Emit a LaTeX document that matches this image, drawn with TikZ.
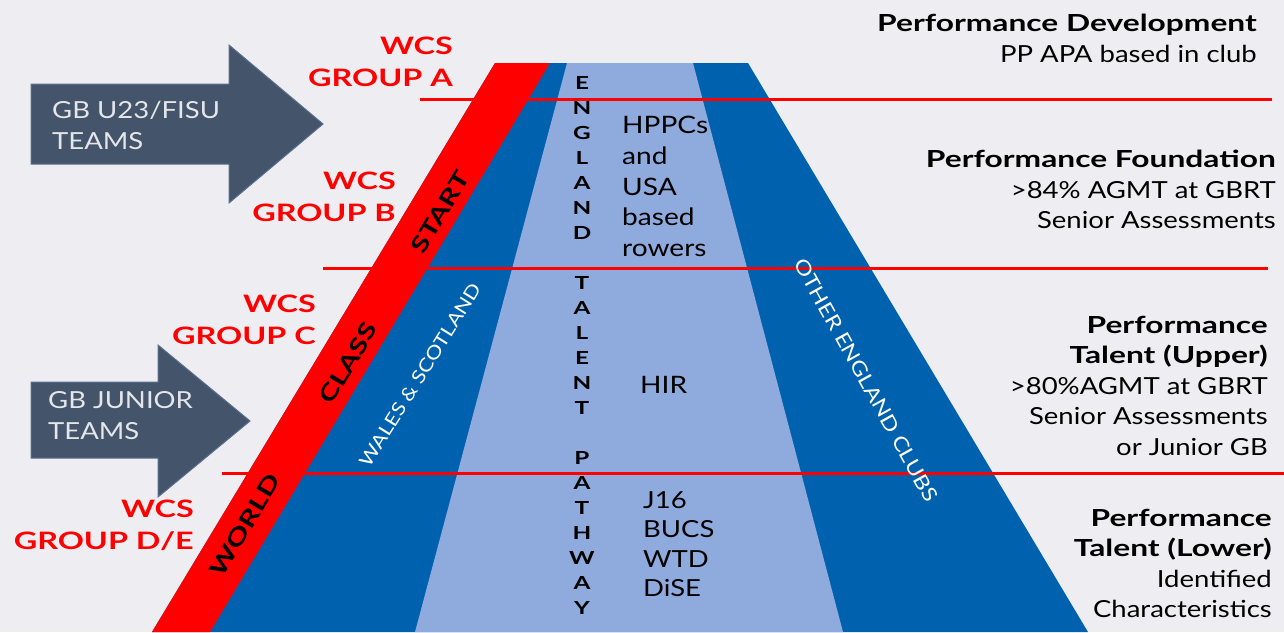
\documentclass[tikz,border=0pt]{standalone}
\usepackage{fontspec}
\setmainfont{Lato}[FakeStretch=1.17]
\newfontfamily\widebold{Lato}[FakeStretch=1.35]
\usepackage{xcolor}
\definecolor{bgcol}{HTML}{EEEEF2}
\definecolor{darkblue}{HTML}{0062AE}
\definecolor{lightblue}{HTML}{8FAADC}
\definecolor{arrowcol}{HTML}{44546A}
\definecolor{arrowline}{HTML}{5A6F8E}
\definecolor{teamtext}{HTML}{E4E6EA}
\definecolor{wcsred}{HTML}{FF0000}

\begin{document}
\begin{tikzpicture}[x=1pt,y=-1pt,
  redline/.style={wcsred,line width=3pt},
  arrowbox/.style={fill=arrowcol,draw=arrowline,line width=1pt},
  team/.style={font=\fontsize{23.5}{31}\selectfont,text=teamtext,align=left,anchor=west,inner sep=0pt},
  wcs/.style={font=\widebold\fontsize{24}{32}\selectfont\bfseries,text=wcsred,align=right,anchor=east,inner sep=0pt},
  bandword/.style={font=\widebold\fontsize{22.5}{22.5}\selectfont\bfseries,inner sep=0pt},
  sideword/.style={font=\fontsize{18.5}{18.5}\selectfont,text=white,inner sep=0pt},
  level/.style={font=\fontsize{23.5}{30.5}\selectfont,align=right,anchor=north east,inner sep=0pt},
  hd/.style={},
  squad/.style={font=\fontsize{24}{30.75}\selectfont,align=left,anchor=north west,inner sep=0pt},
  letter/.style={font=\widebold\fontsize{18}{18}\selectfont\bfseries,inner sep=0pt}]
  \useasboundingbox (0,0) rectangle (1284,632);
  \fill[bgcol] (0,0) rectangle (1284,632);
  \fill[darkblue] (495,63) -- (748,63) -- (1088,632) -- (152,632) -- cycle;
  \fill[lightblue] (567,63) -- (693,63) -- (843,632) -- (415,632) -- cycle;
  \fill[wcsred] (495,63) -- (550,63) -- (210,632) -- (152,632) -- cycle;
  \draw[redline] (420,99) -- (1272,99);
  \draw[redline] (323,268) -- (1268,268);
  \draw[redline] (222,473) -- (1284,473);
  \filldraw[arrowbox] (31,84) -- (229,84) -- (229,45) -- (323,124) -- (229,203) -- (229,164) -- (31,164) -- cycle;
  \filldraw[arrowbox] (31,382) -- (158,382) -- (158,345) -- (250,421) -- (158,497) -- (158,458) -- (31,458) -- cycle;
  \node[team] (u23) at (52,125) {GB U23/FISU\\TEAMS};
  \node[team] (junior) at (48,416) {GB JUNIOR\\TEAMS};
  \node[wcs] (groupa) at (453,61.5) {WCS\\GROUP A};
  \node[wcs] (groupb) at (396,197) {WCS\\GROUP B};
  \node[wcs] (groupc) at (316,320) {WCS\\GROUP C};
  \node[wcs] (groupde) at (194,525) {WCS\\GROUP D/E};
  \node[bandword,rotate=59] (start) at (440,212) {START};
  \node[bandword,rotate=59] (class) at (348,363) {CLASS};
  \node[bandword,rotate=59] (world) at (245,525) {WORLD};
  \node[sideword,rotate=58] (wales) at (420,375) {WALES \& SCOTLAND};
  \node[sideword,font=\fontsize{20}{20}\selectfont,rotate=-61] (others) at (866,380) {OTHER ENGLAND CLUBS};
  \foreach \l [count=\i] in {E,N,G,L,A,N,D,{},T,A,L,E,N,T,{},P,A,T,H,W,A,Y}
    \node[letter] (etp\i) at (582,58+25*\i) {\l};
  \node[squad] (hppc) at (622,116) {HPPCs\\and\\USA\\based\\rowers};
  \node[squad,anchor=west] (hir) at (640,385) {HIR};
  \node[squad,font=\fontsize{23.5}{29.5}\selectfont] (j16) at (643,491) {J16\\BUCS\\WTD\\DiSE};
  \node[level] (pdev) at (1257,14) {{\widebold\bfseries Performance Development}\\PP APA based in club};
  \node[level] (pfound) at (1276,150) {{\widebold\bfseries Performance Foundation}\\>84\% AGMT at GBRT\\Senior Assessments};
  \node[level] (pupper) at (1268,316) {{\widebold\bfseries Performance}\\{\widebold\bfseries Talent (Upper)}\\>80\%AGMT at GBRT\\Senior Assessments\\or Junior GB};
  \node[level] (plower) at (1272,509) {{\widebold\bfseries Performance}\\{\widebold\bfseries Talent (Lower)}\\Identified\\Characteristics};
\end{tikzpicture}
\end{document}
